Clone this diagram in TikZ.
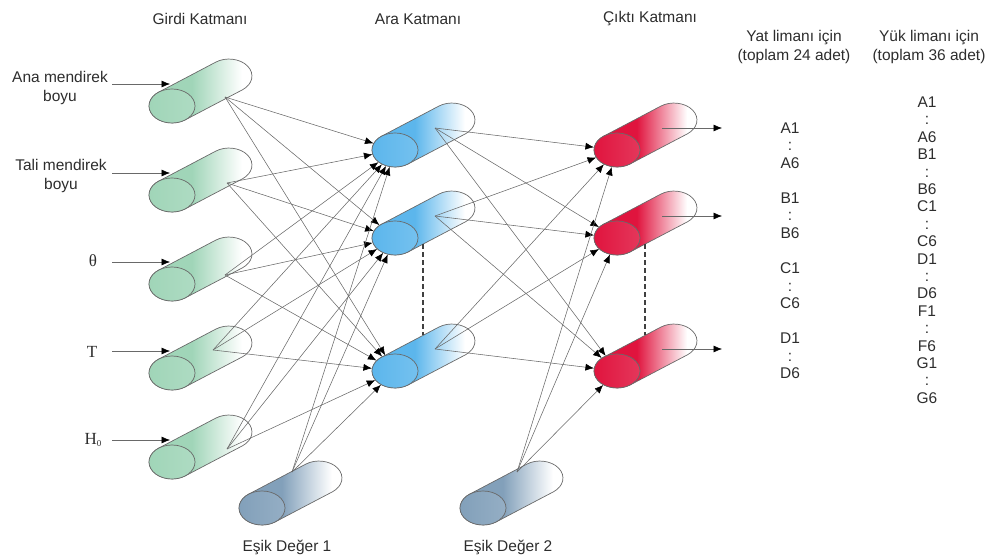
\documentclass[tikz,border=0pt]{standalone}
\usepackage{fontspec}
\setmainfont{Liberation Sans}
\newfontfamily\serifont{Liberation Serif}
\usetikzlibrary{shapes.geometric, arrows.meta, calc}

\definecolor{cgreen}{RGB}{160,213,184}
\definecolor{cblue}{RGB}{92,182,236}
\definecolor{cred}{RGB}{224,20,62}
\definecolor{cslate}{RGB}{130,160,186}
\definecolor{cline}{RGB}{105,105,105}
\definecolor{ctext}{RGB}{45,45,45}
\colorlet{cc}{cgreen}
\pgfdeclarehorizontalshading[cc]{cylbody}{100bp}{color(0bp)=(cc); color(25bp)=(cc); color(46bp)=(cc); color(69bp)=(white); color(100bp)=(white)}

\tikzset{
	conn/.style={draw=cline, line width=0.55pt, -{Latex[length=8.5pt,width=7pt,color=black]}},
	lbl/.style={text=ctext, font=\fontsize{15.5}{19}\selectfont, align=center, inner sep=0pt},
	sym/.style={text=ctext, font=\serifont\fontsize{17}{19}\selectfont, inner sep=0pt},
	lst/.style={lbl, text height=11pt, text depth=0pt},
	face/.style={ellipse, draw=cline, line width=0.7pt, minimum width=46pt, minimum height=34pt, inner sep=0pt},
}

\begin{document}
\begin{tikzpicture}[x=1pt, y=-1pt]
	\useasboundingbox (0,0) rectangle (989,559);
	% cylinders: name / front centre / colour / start of outgoing lines
	\foreach \n/\p/\c/\o in {I1/{172,106}/cgreen/{53,9}, I2/{172,195}/cgreen/{55,12},
			I3/{172,284}/cgreen/{53,9}, I4/{172,373}/cgreen/{41,23}, I5/{172,462}/cgreen/{55,13},
			H1/{395,150}/cblue/{40,22}, H2/{395,238}/cblue/{40,22}, H3/{395,371}/cblue/{40,22},
			R1/{617,150}/cred/{45,22}, R2/{617,238}/cred/{45,22}, R3/{617,371}/cred/{45,22},
			B1/{262,508}/cslate/{30,36}, B2/{483,508}/cslate/{34,36}}
	{
		\colorlet{cc}{\c}
		\begin{scope}[shift={(\p)}, yscale=-1]
			\path[shading=cylbody, draw=cline, line width=0.7pt]
				(-13.4,13.8) -- (43.6,43.8)
				arc[start angle=125.5, end angle=-54.5, x radius=23, y radius=17]
				-- (13.4,-13.8)
				arc[start angle=-54.5, end angle=-234.5, x radius=23, y radius=17] -- cycle;
			\node[face, left color=\c, right color=\c!85!white] (\n) at (0,0) {};
			\coordinate (\n-in) at (-2,22);
			\coordinate (\n-out) at (\o);
			\coordinate (\n-lo) at (28,-6.1);
			\coordinate (\n-up) at (28,35.6);
		\end{scope}
	}

	% titles
	\node[lbl] (tin) at (200,19) {Girdi Katmanı};
	\node[lbl] (thid) at (418,19) {Ara Katmanı};
	\node[lbl] (tout) at (650,19) {Çıktı Katmanı};
	\node[lbl] (tyat) at (794,47) {Yat limanı için\\(toplam 24 adet)};
	\node[lbl] (tyuk) at (929,47) {Yük limanı için\\(toplam 36 adet)};

	% inputs
	\node[lbl] (n1) at (60,88) {Ana mendirek\\boyu};
	\node[lbl] (n2) at (61,176) {Tali mendirek\\boyu};
	\node[sym] (n3) at (93,261) {θ};
	\node[sym] (n4) at (92,352) {T};
	\node[sym] (n5) at (93,440) {H\raisebox{-0.35ex}{\fontsize{9}{9}\selectfont 0}};
	\foreach \i/\y in {1/84,2/173,3/262,4/351,5/440}
		\coordinate (L\i) at (112,\y);
	\foreach \i in {1,...,5}
		\draw[conn] (L\i) -- (I\i-in);

	% thresholds
	\node[lbl] (e1) at (287,547) {Eşik Değer 1};
	\node[lbl] (e2) at (508,547) {Eşik Değer 2};

	% weights
	\foreach \i in {1,...,5}
		\foreach \h in {1,2,3}
			\draw[conn] (I\i-out) -- (H\h);
	\foreach \h in {1,2,3}
		\draw[conn] (B1-out) -- (H\h);
	\foreach \h in {1,2,3}
		\foreach \o in {1,2,3}
			\draw[conn] (H\h-out) -- (R\o);
	\foreach \o in {1,2,3}
		\draw[conn] (B2-out) -- (R\o);

	% outputs
	\foreach \o/\y in {1/128,2/216,3/349}
	{
		\coordinate (O\o) at (722,\y);
		\draw[conn] (R\o-out) -- (O\o);
	}
	\draw[black!75, line width=1.1pt, dash pattern=on 5pt off 3pt] (H2-lo) -- (H3-up);
	\draw[black!75, line width=1.1pt, dash pattern=on 5pt off 3pt] (R2-lo) -- (R3-up);

	% output lists
	\foreach \t/\k in {A1/0,:/1,A6/2,B1/4,:/5,B6/6,C1/8,:/9,C6/10,D1/12,:/13,D6/14}
		\node[lst] (ya\k) at (790,128+17.5*\k) {\t};
	\foreach \t [count=\k from 0] in {A1,:,A6,B1,:,B6,C1,:,C6,D1,:,D6,F1,:,F6,G1,:,G6}
		\node[lst] (yu\k) at (927,102+17.4*\k) {\t};
\end{tikzpicture}
\end{document}
